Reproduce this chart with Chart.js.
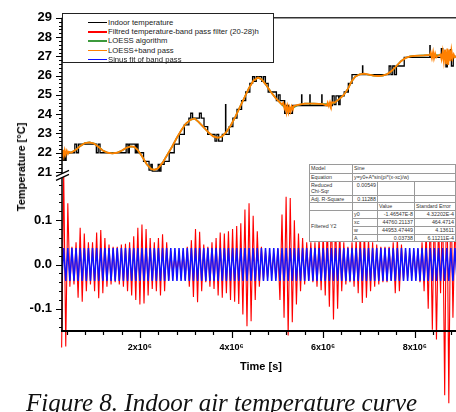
<!DOCTYPE html>
<html>
<head>
<meta charset="utf-8">
<script src="https://cdn.jsdelivr.net/npm/chart.js@4.4.0/dist/chart.umd.min.js"></script>
<style>
    html, body { margin: 0; padding: 0; background: #fff; overflow: hidden; }
    #wrap { position: relative; width: 456px; height: 412px; overflow: hidden; font-family: Arial, "Liberation Sans", sans-serif; }
    #myChart { position: absolute; left: 0; top: 0; }
    #legend { position: absolute; left: 62px; top: 13px; width: 212px; height: 50px; box-sizing: border-box; border: 1.5px solid #222; background: #fff; }
    #legend .row { position: absolute; left: 0; height: 9px; width: 210px; }
    #legend .swatch { position: absolute; left: 25px; top: 4px; width: 19px; height: 1.5px; }
    #legend .txt { position: absolute; left: 45px; top: 0; font-size: 7.7px; line-height: 9px; color: #222; white-space: nowrap; }
    #fit { position: absolute; left: 309px; top: 164px; width: 146px; height: 77px; border-collapse: collapse; table-layout: fixed; background: #fff; border: 1.5px solid #111; font-size: 5.3px; color: #333; }
    #fit td { border: 0.6px solid #9a9a9a; padding: 0 1px; line-height: 6px; vertical-align: top; white-space: nowrap; overflow: hidden; }
    #fit td.r { text-align: right; }
    #fit td.mid { vertical-align: middle; }
    .title { position: absolute; font-weight: bold; font-size: 11px; color: #000; white-space: nowrap; transform: translate(-50%, -50%); }
    #ytitle { left: 21px; top: 167px; transform: translate(-50%, -50%) rotate(-90deg); }
    #xtitle { left: 261px; top: 366px; }
    #caption { position: absolute; left: 26px; top: 390px; font-family: "Liberation Serif", "Times New Roman", serif; font-style: italic; font-size: 25px; line-height: 25px; color: #111; white-space: nowrap; }
</style>
</head>
<body>
<div id="wrap">
    <canvas id="myChart" width="456" height="412"></canvas>
    <div id="legend"></div>
    <table id="fit">
        <colgroup><col style="width:43px"><col style="width:25px"><col style="width:37px"><col style="width:41px"></colgroup>
        <tr style="height:9px"><td>Model</td><td colspan="3">Sine</td></tr>
        <tr style="height:8px"><td>Equation</td><td colspan="3">y=y0+A*sin(pi*(x-xc)/w)</td></tr>
        <tr style="height:14px"><td>Reduced<br>Chi-Sqr</td><td class="r">0.00549</td><td></td><td></td></tr>
        <tr style="height:7px"><td>Adj. R-Square</td><td class="r">0.11288</td><td></td><td></td></tr>
        <tr style="height:8px"><td></td><td></td><td>Value</td><td>Standard Error</td></tr>
        <tr style="height:8px"><td rowspan="4" class="mid">Filtered Y2</td><td>y0</td><td class="r">-1.46547E-8</td><td class="r">4.32202E-4</td></tr>
        <tr style="height:8px"><td>xc</td><td class="r">44760.21137</td><td class="r">464.4714</td></tr>
        <tr style="height:8px"><td>w</td><td class="r">44953.47449</td><td class="r">4.13611</td></tr>
        <tr style="height:7px"><td>A</td><td class="r">0.03738</td><td class="r">6.11211E-4</td></tr>
    </table>
    <div id="ytitle" class="title">Temperature [°C]</div>
    <div id="xtitle" class="title">Time [s]</div>
    <div id="caption">Figure 8. Indoor air temperature curve</div>
</div>
<script>
// times of the upper panel are in units of 1e6 s
var indoorTime = [0.30, 0.32, 0.34, 0.37, 0.39, 0.58, 0.62, 0.66, 1.05, 1.09, 1.13, 1.70, 1.74, 1.77, 1.90, 1.93,
    1.96, 2.08, 2.20, 2.24, 2.27, 2.40, 2.43, 2.46, 2.53, 2.64, 2.75, 2.86, 2.97, 3.07, 3.11, 3.15,
    3.30, 3.34, 3.40, 3.48, 3.64, 3.68, 3.72, 3.80, 3.870, 3.876, 3.95, 4.03, 4.12, 4.22, 4.31, 4.40,
    4.46, 4.50, 4.54, 4.66, 4.70, 4.74, 4.80, 4.98, 5.02, 5.06, 5.16, 5.20, 5.24, 5.33, 5.530, 5.536,
    5.710, 5.716, 5.970, 5.976, 6.20, 6.24, 6.28, 6.34, 6.37, 6.46, 6.55, 6.63, 6.860, 6.866, 7.44, 7.48,
    7.52, 7.56, 7.60, 7.77, 8.330, 8.336, 8.58, 8.61, 8.68, 8.71, 8.78, 8.80, 8.84, 8.90];
var indoorTemp = [22.0, 21.6, 22.05, 21.6, 22.0, 22.45, 22.0, 22.45, 22.0, 22.45, 22.0, 22.45, 22.0, 22.45, 22.0, 22.45,
    22.0, 21.55, 21.1, 21.4, 21.05, 21.4, 21.05, 21.4, 21.55, 22.0, 22.45, 22.95, 23.45, 23.8, 24.05, 23.8,
    24.05, 23.8, 23.35, 22.95, 22.6, 22.95, 22.6, 22.95, 24.5, 22.95, 23.35, 23.8, 24.25, 24.7, 25.15, 25.6,
    25.95, 25.7, 25.95, 25.7, 25.95, 25.6, 25.15, 24.7, 25.0, 24.7, 24.05, 24.45, 24.05, 24.45, 25.0, 24.45,
    25.0, 24.45, 25.0, 24.45, 24.95, 24.5, 24.95, 24.5, 24.95, 25.15, 25.6, 26.05, 26.5, 26.05, 26.5, 26.05,
    26.5, 26.05, 26.5, 26.95, 27.55, 26.95, 27.4, 26.95, 26.45, 27.0, 27.35, 26.5, 27.0, 27.0];

var loessTime = [0.30, 0.40, 0.50, 0.60, 0.70, 0.80, 0.90, 1.00, 1.10, 1.20, 1.30, 1.40, 1.50, 1.60, 1.70, 1.80,
    1.88, 1.95, 2.05, 2.15, 2.25, 2.32, 2.40, 2.50, 2.60, 2.70, 2.80, 2.90, 3.00, 3.10, 3.19, 3.28,
    3.38, 3.50, 3.60, 3.70, 3.78, 3.88, 3.98, 4.08, 4.18, 4.28, 4.38, 4.48, 4.58, 4.66, 4.76, 4.86,
    4.96, 5.06, 5.14, 5.20, 5.27, 5.35, 5.45, 5.60, 5.80, 6.00, 6.15, 6.25, 6.35, 6.45, 6.55, 6.62,
    6.70, 6.80, 6.90, 7.00, 7.10, 7.20, 7.30, 7.40, 7.50, 7.60, 7.70, 7.80, 7.90, 8.00, 8.20, 8.40,
    8.60, 8.80, 8.90];
var loessTemp = [22.0, 22.0, 22.02, 22.15, 22.35, 22.5, 22.54, 22.48, 22.3, 22.1, 22.0, 21.97, 22.0, 22.1, 22.25, 22.33,
    22.3, 22.15, 21.8, 21.4, 21.15, 21.12, 21.2, 21.5, 21.9, 22.3, 22.75, 23.15, 23.5, 23.7, 23.78, 23.6,
    23.35, 23.05, 22.85, 22.78, 22.82, 23.05, 23.4, 23.85, 24.35, 24.85, 25.35, 25.75, 25.9, 25.8, 25.5, 25.15,
    24.85, 24.6, 24.4, 24.27, 24.24, 24.35, 24.48, 24.55, 24.55, 24.52, 24.52, 24.6, 24.78, 25.0, 25.35, 25.7,
    25.95, 26.07, 26.1, 26.05, 26.0, 25.98, 26.0, 26.08, 26.25, 26.5, 26.75, 26.92, 27.0, 27.03, 27.05, 27.07,
    27.05, 27.0, 26.98];

var loessBandTime = [0.30, 0.32, 0.34, 0.36, 0.38, 0.405, 0.43, 0.45, 0.50, 0.60, 0.70, 0.80, 0.90, 1.00, 1.10, 1.20,
    1.30, 1.40, 1.50, 1.60, 1.70, 1.80, 1.88, 1.95, 2.05, 2.15, 2.25, 2.32, 2.40, 2.50, 2.60, 2.70,
    2.80, 2.90, 3.00, 3.10, 3.19, 3.28, 3.38, 3.50, 3.60, 3.70, 3.78, 3.88, 3.98, 4.08, 4.18, 4.28,
    4.38, 4.48, 4.58, 4.66, 4.76, 4.86, 4.96, 5.06, 5.10, 5.13, 5.155, 5.18, 5.20, 5.225, 5.245, 5.27,
    5.29, 5.315, 5.34, 5.36, 5.45, 5.60, 5.80, 6.00, 6.08, 6.10, 6.125, 6.15, 6.17, 6.195, 6.25, 6.35,
    6.45, 6.55, 6.62, 6.70, 6.80, 6.90, 7.00, 7.10, 7.20, 7.30, 7.40, 7.50, 7.60, 7.70, 7.80, 7.90,
    8.00, 8.20, 8.33, 8.35, 8.375, 8.40, 8.42, 8.445, 8.47, 8.52, 8.56, 8.585, 8.61, 8.635, 8.66, 8.685,
    8.71, 8.73, 8.755, 8.78, 8.80, 8.825, 8.85, 8.875, 8.90];
var loessBandTemp = [21.85, 22.15, 21.85, 22.12, 21.9, 22.1, 21.95, 22.05, 22.0, 22.15, 22.35, 22.5, 22.54, 22.48, 22.3, 22.1,
    22.0, 21.97, 22.0, 22.1, 22.25, 22.33, 22.3, 22.15, 21.8, 21.4, 21.15, 21.12, 21.2, 21.5, 21.9, 22.3,
    22.75, 23.15, 23.5, 23.7, 23.78, 23.6, 23.35, 23.05, 22.85, 22.78, 22.82, 23.05, 23.4, 23.85, 24.35, 24.85,
    25.35, 25.75, 25.9, 25.8, 25.5, 25.15, 24.85, 24.6, 24.5, 24.6, 24.3, 24.45, 24.1, 24.4, 24.1, 24.35,
    24.15, 24.4, 24.25, 24.42, 24.48, 24.55, 24.55, 24.52, 24.45, 24.6, 24.42, 24.62, 24.45, 24.62, 24.6, 24.78,
    25.0, 25.35, 25.7, 25.95, 26.07, 26.1, 26.05, 26.0, 25.98, 26.0, 26.08, 26.25, 26.5, 26.75, 26.92, 27.0,
    27.03, 27.05, 27.07, 27.2, 26.92, 27.22, 26.9, 27.15, 26.95, 27.05, 27.1, 26.85, 27.25, 26.75, 27.35, 26.6,
    27.4, 26.55, 27.35, 26.75, 27.3, 26.9, 27.1, 26.95, 27.0];

// lower panel: one reading per half period of the fitted sine (w = 44953 s)
var bandStart = 292005;
var bandStep = 44953;
var filtered = [-0.187, 0.21, -0.185, 0.138, -0.05, 0.04, -0.045, 0.05, -0.075, 0.083, -0.084, 0.07, -0.06, 0.05, -0.045, 0.05,
    -0.06, 0.072, -0.076, 0.078, -0.065, 0.06, -0.05, 0.045, -0.045, 0.04, -0.04, 0.04, -0.045, 0.045, -0.05, 0.047,
    -0.06, 0.05, -0.07, 0.064, -0.08, 0.083, -0.09, 0.09, -0.088, 0.08, -0.07, 0.06, -0.055, 0.05, -0.06, 0.06,
    -0.07, 0.068, -0.06, 0.05, -0.035, 0.03, -0.025, 0.02, -0.015, 0.02, -0.025, 0.03, -0.035, 0.04, -0.05, 0.055,
    -0.073, 0.08, -0.085, 0.074, -0.06, 0.045, -0.04, 0.04, -0.05, 0.05, -0.055, 0.06, -0.07, 0.072, -0.075, 0.07,
    -0.065, 0.075, -0.08, 0.08, -0.084, 0.087, -0.089, 0.093, -0.113, 0.124, -0.139, 0.138, -0.128, 0.11, -0.08, 0.075,
    -0.05, 0.04, -0.035, 0.03, -0.03, 0.025, -0.02, 0.025, -0.03, 0.035, -0.08, 0.113, -0.12, 0.153, -0.16, 0.15,
    -0.13, 0.1, -0.09, 0.07, -0.06, 0.06, -0.045, 0.05, -0.036, 0.05, -0.04, 0.05, -0.05, 0.06, -0.058, 0.07,
    -0.07, 0.09, -0.095, 0.12, -0.124, 0.11, -0.1, 0.08, -0.06, 0.05, -0.045, 0.04, -0.04, 0.05, -0.05, 0.06,
    -0.065, 0.08, -0.087, 0.08, -0.075, 0.06, -0.06, 0.05, -0.05, 0.045, -0.045, 0.04, -0.04, 0.04, -0.04, 0.04,
    -0.036, 0.05, -0.065, 0.06, -0.06, 0.045, -0.035, 0.03, -0.03, 0.025, -0.025, 0.03, -0.03, 0.035, -0.04, 0.05,
    -0.06, 0.08, -0.1, 0.12, -0.147, 0.15, -0.169, 0.1, -0.065, 0.15, -0.295, 0.25, -0.313, 0.2, -0.12, 0.1,
    -0.05];
var sineFit = [-0.037, 0.037, -0.037, 0.037, -0.037, 0.037, -0.037, 0.037, -0.037, 0.037, -0.037, 0.037, -0.037, 0.037, -0.037, 0.037,
    -0.037, 0.037, -0.037, 0.037, -0.037, 0.037, -0.037, 0.037, -0.037, 0.037, -0.037, 0.037, -0.037, 0.037, -0.037, 0.037,
    -0.037, 0.037, -0.037, 0.037, -0.037, 0.037, -0.037, 0.037, -0.037, 0.037, -0.037, 0.037, -0.037, 0.037, -0.037, 0.037,
    -0.037, 0.037, -0.037, 0.037, -0.037, 0.037, -0.037, 0.037, -0.037, 0.037, -0.037, 0.037, -0.037, 0.037, -0.037, 0.037,
    -0.037, 0.037, -0.037, 0.037, -0.037, 0.037, -0.037, 0.037, -0.037, 0.037, -0.037, 0.037, -0.037, 0.037, -0.037, 0.037,
    -0.037, 0.037, -0.037, 0.037, -0.037, 0.037, -0.037, 0.037, -0.037, 0.037, -0.037, 0.037, -0.037, 0.037, -0.037, 0.037,
    -0.037, 0.037, -0.037, 0.037, -0.037, 0.037, -0.037, 0.037, -0.037, 0.037, -0.037, 0.037, -0.037, 0.037, -0.037, 0.037,
    -0.037, 0.037, -0.037, 0.037, -0.037, 0.037, -0.037, 0.037, -0.037, 0.037, -0.037, 0.037, -0.037, 0.037, -0.037, 0.037,
    -0.037, 0.037, -0.037, 0.037, -0.037, 0.037, -0.037, 0.037, -0.037, 0.037, -0.037, 0.037, -0.037, 0.037, -0.037, 0.037,
    -0.037, 0.037, -0.037, 0.037, -0.037, 0.037, -0.037, 0.037, -0.037, 0.037, -0.037, 0.037, -0.037, 0.037, -0.037, 0.037,
    -0.037, 0.037, -0.037, 0.037, -0.037, 0.037, -0.037, 0.037, -0.037, 0.037, -0.037, 0.037, -0.037, 0.037, -0.037, 0.037,
    -0.037, 0.037, -0.037, 0.037, -0.037, 0.037, -0.037, 0.037, -0.037, 0.037, -0.037, 0.037, -0.037, 0.037, -0.037, 0.037,
    -0.037];

var tempTicks = [21, 22, 23, 24, 25, 26, 27, 28, 29];
var bandTicks = [-0.1, 0, 0.1];
var timeTicks = [2e6, 4e6, 6e6, 8e6];

function steps(from, to, step) {
    var out = [];
    for (var v = from; v <= to + step / 2; v += step) {
        out.push(Math.round(v * 1000) / 1000);
    }
    return out;
}
var tempMinor = steps(21, 29, 0.2);
var bandMinor = steps(-0.14, 0.18, 0.02);
var timeMinor = steps(0.4, 8.8, 0.4).map(function (v) { return v * 1e6; });

function pairs(times, vals) {
    return vals.map(function (v, i) { return { x: times[i] * 1e6, y: v }; });
}
function bandData(vals) {
    return vals.map(function (v, i) { return { x: bandStart + i * bandStep, y: v }; });
}

// axis lines, tick marks, top frame and the axis break
var axisFrame = {
    id: 'axisFrame',
    afterDraw: function (chart) {
        var ctx = chart.ctx, a = chart.chartArea;
        var yT = chart.scales.yTemp, yB = chart.scales.yBand, xs = chart.scales.x;
        ctx.save();
        ctx.strokeStyle = '#000';
        ctx.lineWidth = 1.5;
        ctx.beginPath();
        ctx.moveTo(a.left, yT.top); ctx.lineTo(a.left, yT.bottom);
        ctx.moveTo(a.left, yB.top); ctx.lineTo(a.left, yB.bottom + 1);
        ctx.stroke();
        ctx.lineWidth = 2;
        ctx.beginPath();
        ctx.moveTo(a.left - 1, a.bottom); ctx.lineTo(a.right, a.bottom);
        ctx.stroke();
        ctx.strokeStyle = '#333';
        ctx.lineWidth = 1.5;
        ctx.beginPath();
        ctx.moveTo(a.left, a.top); ctx.lineTo(a.right, a.top);
        ctx.stroke();

        ctx.strokeStyle = '#000';
        ctx.lineWidth = 1.2;
        ctx.beginPath();
        function yTicks(scale, values, len) {
            values.forEach(function (v) {
                var p = Math.round(scale.getPixelForValue(v)) + 0.5;
                ctx.moveTo(a.left, p); ctx.lineTo(a.left - len, p);
            });
        }
        yTicks(yT, tempMinor, 3);
        yTicks(yT, tempTicks, 6);
        yTicks(yB, bandMinor, 3);
        yTicks(yB, bandTicks, 6);
        timeMinor.forEach(function (v) {
            var p = Math.round(xs.getPixelForValue(v)) + 0.5;
            ctx.moveTo(p, a.bottom); ctx.lineTo(p, a.bottom + 4);
        });
        timeTicks.forEach(function (v) {
            var p = Math.round(xs.getPixelForValue(v)) + 0.5;
            ctx.moveTo(p, a.bottom); ctx.lineTo(p, a.bottom + 7);
        });
        ctx.stroke();

        var yb = yT.bottom;
        ctx.fillStyle = '#fff';
        ctx.beginPath();
        ctx.moveTo(a.left - 7, yb + 1); ctx.lineTo(a.left + 8, yb - 6);
        ctx.lineTo(a.left + 8, yb - 2); ctx.lineTo(a.left - 7, yb + 5);
        ctx.closePath();
        ctx.fill();
        ctx.lineWidth = 1.2;
        ctx.beginPath();
        ctx.moveTo(a.left - 6, yb + 0.5); ctx.lineTo(a.left + 7, yb - 5.5);
        ctx.moveTo(a.left - 6, yb + 4.5); ctx.lineTo(a.left + 7, yb - 1.5);
        ctx.stroke();
        ctx.restore();
    }
};

Chart.defaults.font.family = 'Arial, "Liberation Sans", sans-serif';
Chart.defaults.color = '#000';

var myChart = document.getElementById('myChart');
var chart = new Chart(myChart, {
    type: 'line',
    data: {
        datasets: [{
            label: 'Indoor temperature',
            data: pairs(indoorTime, indoorTemp),
            yAxisID: 'yTemp',
            borderColor: '#000000',
            borderWidth: 1.3,
            stepped: true,
            order: 5
        }, {
            label: 'Filtred temperature-band pass filter (20-28)h',
            data: bandData(filtered),
            yAxisID: 'yBand',
            borderColor: '#ff0000',
            borderWidth: 1.1,
            order: 2,
            clip: { left: 1, right: 0, top: 0, bottom: false }
        }, {
            label: 'LOESS algorithm',
            data: pairs(loessTime, loessTemp),
            yAxisID: 'yTemp',
            borderColor: '#3c9a3c',
            borderWidth: 1.6,
            order: 4
        }, {
            label: 'LOESS+band pass',
            data: pairs(loessBandTime, loessBandTemp),
            yAxisID: 'yTemp',
            borderColor: '#ff8000',
            borderWidth: 1.8,
            order: 3
        }, {
            label: 'Sinus fit of band pass',
            data: bandData(sineFit),
            yAxisID: 'yBand',
            borderColor: '#1010ff',
            borderWidth: 1.5,
            order: 1
        }]
    },
    options: {
        responsive: false,
        animation: false,
        layout: { padding: { top: 14, left: 0, right: 0, bottom: 0 } },
        elements: { point: { radius: 0 }, line: { tension: 0 } },
        plugins: { legend: { display: false }, tooltip: { enabled: false } },
        scales: {
            x: {
                type: 'linear',
                position: 'bottom',
                min: 0.3e6,
                max: 8.9e6,
                afterBuildTicks: function (s) { s.ticks = timeTicks.map(function (v) { return { value: v }; }); },
                afterFit: function (s) { s.height = 81; },
                grid: { display: false, drawTicks: false },
                border: { display: false },
                ticks: {
                    autoSkip: false, maxRotation: 0, padding: 11,
                    font: { size: 9, weight: 'bold' },
                    callback: function (v) { return (v / 1e6) + 'x10\u2076'; }
                }
            },
            yTemp: {
                type: 'linear',
                axis: 'y',
                position: 'left',
                stack: 'panels',
                stackWeight: 160,
                weight: 2,
                min: 20.8,
                max: 29,
                afterBuildTicks: function (s) { s.ticks = tempTicks.map(function (v) { return { value: v }; }); },
                afterFit: function (s) { s.width = 62; },
                grid: { display: false, drawTicks: false },
                border: { display: false },
                ticks: {
                    autoSkip: false, padding: 10,
                    font: { size: 13, weight: 'bold' },
                    callback: function (v) { return String(v); }
                }
            },
            yBand: {
                type: 'linear',
                axis: 'y',
                position: 'left',
                stack: 'panels',
                stackWeight: 157,
                weight: 1,
                min: -0.15,
                max: 0.2,
                afterBuildTicks: function (s) { s.ticks = bandTicks.map(function (v) { return { value: v }; }); },
                afterFit: function (s) { s.width = 62; },
                grid: { display: false, drawTicks: false },
                border: { display: false },
                ticks: {
                    autoSkip: false, padding: 10,
                    font: { size: 13, weight: 'bold' },
                    callback: function (v) { return v.toFixed(1); }
                }
            }
        }
    },
    plugins: [axisFrame]
});

var legend = document.getElementById('legend');
chart.data.datasets.forEach(function (ds, i) {
    var row = document.createElement('div');
    row.className = 'row';
    row.style.top = (3.7 + i * 9.3) + 'px';
    row.innerHTML = '<div class="swatch" style="background:' + ds.borderColor + '"></div><div class="txt">' + ds.label + '</div>';
    legend.appendChild(row);
});
</script>
</body>
</html>
